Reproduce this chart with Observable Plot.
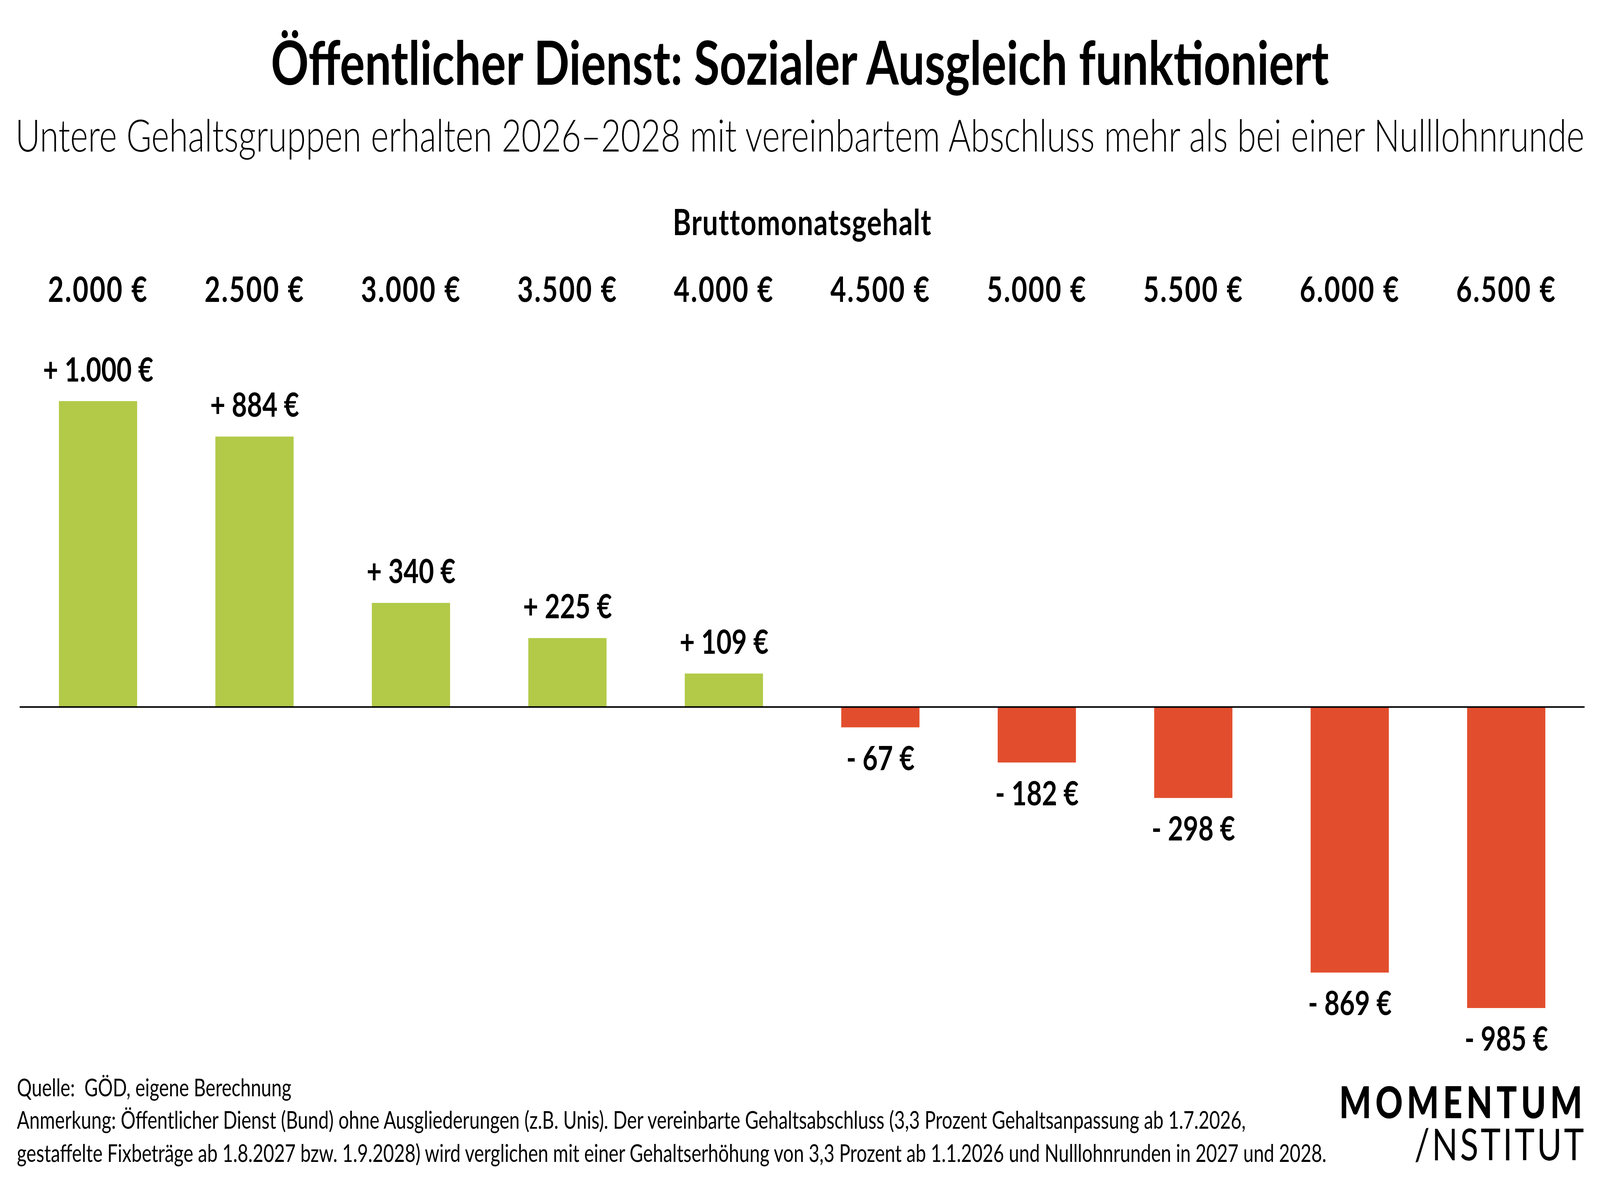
<!DOCTYPE html>
<html><head><meta charset="utf-8">
<script src="https://cdn.jsdelivr.net/npm/d3@7"></script>
<script src="https://cdn.jsdelivr.net/npm/@observablehq/plot@0.6"></script>
<style>
html,body{margin:0;padding:0;background:#fff;overflow:hidden;}
#wrap{position:relative;overflow:hidden;background:#fff;}
#page{position:absolute;left:0;top:0;width:5297px;height:3029px;overflow:hidden;font-family:Lato, "Noto Sans", sans-serif;color:#000;background:#fff;transform-origin:0 0;}
.t{position:absolute;white-space:pre;}
#chart{position:absolute;left:0;top:450px;}
#logo{position:absolute;white-space:pre;text-align:right;font-size:112px;line-height:108px;font-weight:400;}
</style><style id="logostyle"></style></head><body><div id="wrap"><div id="page"><div id="chart"></div></div></div>
<script>
// ---- data ----
const gehalt = [2000, 2500, 3000, 3500, 4000, 4500, 5000, 5500, 6000, 6500];
const differenz = [1000, 884, 340, 225, 109, -67, -182, -298, -869, -985];
const titel = "Öffentlicher Dienst: Sozialer Ausgleich funktioniert";
const untertitel = "Untere Gehaltsgruppen erhalten 2026–2028 mit vereinbartem Abschluss mehr als bei einer Nulllohnrunde";
const achsenTitel = "Bruttomonatsgehalt";
const quelle = "Quelle:  GÖD, eigene Berechnung";
const anmerkung = [
  "Anmerkung: Öffentlicher Dienst (Bund) ohne Ausgliederungen (z.B. Unis). Der vereinbarte Gehaltsabschluss (3,3 Prozent Gehaltsanpassung ab 1.7.2026,",
  "gestaffelte Fixbeträge ab 1.8.2027 bzw. 1.9.2028) wird verglichen mit einer Gehaltserhöhung von 3,3 Prozent ab 1.1.2026 und Nulllohnrunden in 2027 und 2028."
];
const logo = ["MOMENTUM", "/NSTITUT"];

const GREEN = "#b2ca48", RED = "#e24e2d";
const de = d3.formatLocale({decimal: ",", thousands: ".", grouping: [3], currency: ["", " €"]});
const fmt = de.format(",d");
const data = gehalt.map((g, i) => ({g, v: differenz[i]}));
const lab = d => (d.v >= 0 ? "+ " : "- ") + fmt(Math.abs(d.v)) + " €";

const page = document.getElementById("page");

function addText(str, o) {
  const el = document.createElement("div");
  const L = o.lh || 1;
  el.className = "t"; el.textContent = str;
  let fs = o.fs;
  el.style.fontSize = fs + "px"; el.style.fontWeight = o.weight || 400;
  el.style.lineHeight = L;
  page.appendChild(el);
  if (o.width) {
    const w = el.getBoundingClientRect().width;
    fs = fs * o.width / w; el.style.fontSize = fs + "px";
  }
  const w2 = el.getBoundingClientRect().width;
  el.style.top = (o.baseline - (L / 2 + 0.387) * fs) + "px";
  if (o.center != null) el.style.left = (o.center - w2 / 2) + "px";
  else el.style.left = o.left + "px";
  return fs;
}

addText(titel, {fs: 160, weight: 700, baseline: 218, center: 2648, width: 3503});
addText(untertitel, {fs: 120, weight: 300, baseline: 389, center: 2648, width: 5195});
const ffs = addText(anmerkung[0], {fs: 62, weight: 400, baseline: 2890, left: 56, width: 4069, lh: 0.9});
addText(anmerkung[1], {fs: ffs, weight: 400, baseline: 2975, left: 56, lh: 0.9});
addText(quelle, {fs: ffs, weight: 400, baseline: 2807, left: 56, lh: 0.9});

// logo block: one two-line text, first line heavy, right-aligned
function measure(str, weight) {
  const sp = document.createElement("span");
  sp.style.cssText = `position:absolute;white-space:pre;font-size:112px;font-weight:${weight};visibility:hidden`;
  sp.textContent = str; page.appendChild(sp);
  const w = sp.getBoundingClientRect().width; sp.remove(); return w;
}
const ls1 = (818 - measure(logo[0], 900)) / logo[0].length;
const ls2 = (569 - measure(logo[1], 400)) / logo[1].length;
document.getElementById("logostyle").textContent =
  `#logo{letter-spacing:${ls2}px}#logo::first-line{font-weight:900;letter-spacing:${ls1}px}`;
const logoEl = document.createElement("div");
logoEl.id = "logo";
logoEl.textContent = logo.join("\n");
page.appendChild(logoEl);
logoEl.style.right = (5297 - 5244 - ls2) + "px";
logoEl.style.top = (2863 - ((108 - 1.2 * 112) / 2 + 0.987 * 112)) + "px";

const chart = Plot.plot({
  width: 5297, height: 2270,
  marginLeft: 65, marginRight: 51, marginTop: 577, marginBottom: 139,
  style: {fontFamily: "Lato, 'Noto Sans', sans-serif", fontSize: "86px", fontWeight: 700, color: "#000", background: "transparent", overflow: "visible"},
  x: {type: "band", domain: gehalt, padding: 0.5, paddingOuter: 0.25, axis: null},
  y: {domain: d3.extent(differenz), axis: null},
  marks: [
    Plot.barY(data.filter(d => d.v >= 0), {x: "g", y: "v", fill: GREEN}),
    Plot.barY(data.filter(d => d.v < 0), {x: "g", y: "v", fill: RED}),
    Plot.ruleY([0], {stroke: "#000", strokeWidth: 4}),
    Plot.axisX({anchor: "top", tickSize: 0, tickPadding: 255, tickFormat: g => fmt(g) + " €", fontSize: 90, fontWeight: 700, label: null}),
    Plot.text([achsenTitel], {frameAnchor: "top", lineAnchor: "bottom", dy: -426, fontSize: 92, fontWeight: 700}),
    Plot.text(data.filter(d => d.v >= 0), {x: "g", y: "v", text: lab, lineAnchor: "bottom", dy: -51, fontSize: 87, fontWeight: 700}),
    Plot.text(data.filter(d => d.v < 0), {x: "g", y: "v", text: lab, lineAnchor: "top", dy: 47, fontSize: 87, fontWeight: 700})
  ]
});
document.getElementById("chart").appendChild(chart);
// wider letter spacing on the category labels and the axis title, as in the reference
d3.select(chart).selectAll('[aria-label="x-axis tick label"] text').style("letter-spacing", "4px");
d3.select(chart).selectAll('[aria-label="text"] text').filter(function() { return this.textContent === achsenTitel; }).style("letter-spacing", "2px");

// map the 5297×3029 design onto the actual viewport
const vw = document.documentElement.clientWidth || window.innerWidth;
const vh = document.documentElement.clientHeight || window.innerHeight;
const sx = vw / 5297, sy = vh / 3029;
const wrap = document.getElementById("wrap");
wrap.style.width = vw + "px";
wrap.style.height = vh + "px";
page.style.transform = `scale(${sx}, ${sy})`;
</script></body></html>
